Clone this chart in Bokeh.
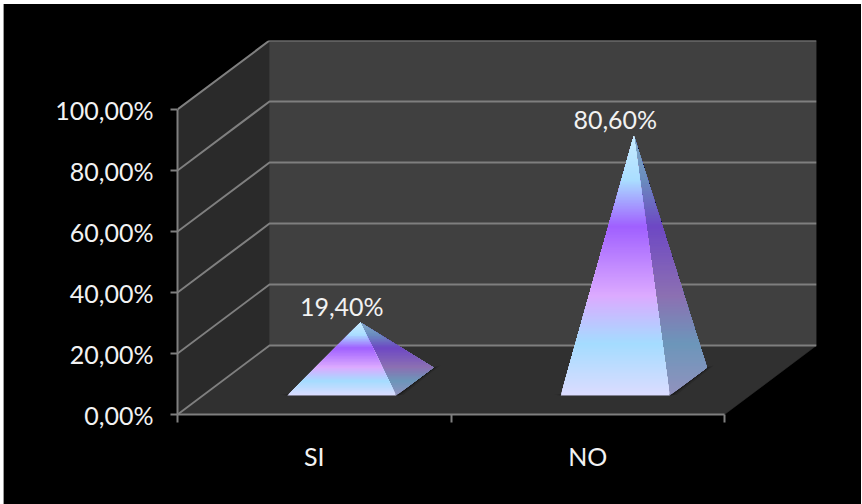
from bokeh.plotting import figure
from bokeh.embed import file_html
from bokeh.resources import INLINE
from bokeh.models import FixedTicker
from bokeh.core.properties import value

categories = ["SI", "NO"]
values = [19.4, 80.6]
labels = ["19,40%", "80,60%"]
y_ticks = [0, 20, 40, 60, 80, 100]
y_tick_labels = ["0,00%", "20,00%", "40,00%", "60,00%", "80,00%", "100,00%"]

# page geometry (px)
PAGE_L, PAGE_T = 4, 4
FL, FR_, FT, FB = 177, 816, 40, 414
PX_X = (725 - 178) / 2      # px per category
PX_Y = (415 - 110) / 100    # px per percent
DEPTH_X = 92 / PX_X         # wall depth, in data units
DEPTH_Y = 69 / PX_Y

def proj(x, y, d):
    return x + d * DEPTH_X, y + d * DEPTH_Y

FONT = "Lato"
W, H = 858, 500
p = figure(width=W, height=H, output_backend="svg", toolbar_location=None,
           x_range=(0, 2 + DEPTH_X), y_range=(0, 100 + DEPTH_Y),
           min_border_left=FL - PAGE_L, min_border_right=PAGE_L + W - FR_,
           min_border_top=FT - PAGE_T, min_border_bottom=PAGE_T + H - FB,
           background_fill_color="black", border_fill_color="black",
           outline_line_color=None)
p.styles = {"position": "absolute", "left": "3px", "top": "4px", "background-color": "black",
            "border-left": "1px solid #9a9a9a"}
p.grid.visible = False

GRID = "#7f7f7f"
ymax = y_ticks[-1]
# walls and floor
def poly(pts, color):
    p.patch([q[0] for q in pts], [q[1] for q in pts], fill_color=color, line_color=color, line_width=0.5)
poly([proj(0, 0, 0), proj(0, 0, 1), proj(0, ymax, 1), proj(0, ymax, 0)], "#2a2a2a")
poly([proj(0, 0, 1), proj(2, 0, 1), proj(2, ymax, 1), proj(0, ymax, 1)], "#404040")
poly([proj(0, 0, 0), proj(2, 0, 0), proj(2, 0, 1), proj(0, 0, 1)], "#303030")

for t in y_ticks:
    a, b, c = proj(0, t, 0), proj(0, t, 1), proj(2, t, 1)
    p.line([a[0], b[0], c[0]], [a[1], b[1], c[1]], line_color=GRID, line_width=2)

# pyramids
STOPS = [(0.0, (220, 220, 255)), (0.2, (164, 220, 255)), (0.385, (220, 170, 255)),
         (0.65, (160, 96, 255)), (0.83, (170, 222, 255)), (1.0, (200, 235, 255))]
SIDE = [(0.0, (146, 146, 190)), (0.2, (108, 150, 186)), (0.385, (140, 112, 178)),
        (0.65, (110, 72, 196)), (0.83, (106, 140, 190)), (1.0, (130, 170, 200))]

def grad(stops, t):
    for (t0, c0), (t1, c1) in zip(stops, stops[1:]):
        if t <= t1:
            f = (t - t0) / (t1 - t0)
            return "#%02x%02x%02x" % tuple(round(a + (b - a) * f) for a, b in zip(c0, c1))
    return "#%02x%02x%02x" % stops[-1][1]

def clip(pts, lim):
    # part of a polygon at or above lim
    out = []
    ins = lambda q: q[1] >= lim
    for i, a in enumerate(pts):
        b = pts[(i + 1) % len(pts)]
        if ins(a):
            out.append(a)
        if ins(a) != ins(b):
            f = (lim - a[1]) / (b[1] - a[1])
            out.append((a[0] + (b[0] - a[0]) * f, lim))
    return out

def shaded(pts, stops, y0, y1, n):
    # painted bottom to top, each step covering all that remains: no seams
    xs, ys, cols = [], [], []
    for i in range(n):
        s = clip(pts, y0 + (y1 - y0) * i / n)
        if len(s) >= 3:
            xs.append([q[0] for q in s]); ys.append([q[1] for q in s])
            cols.append(grad(stops, (i + 0.5) / n))
    p.patches(xs, ys, fill_color=cols, line_color=None)

HALF = 0.199
D0, D1 = 0.275, 0.68
for i, (v, lab) in enumerate(zip(values, labels)):
    c = i + 0.508
    fl, fr = proj(c - HALF, 0, D0), proj(c + HALF, 0, D0)
    br = proj(c + HALF, 0, D1)
    apex = proj(c, v, (D0 + D1) / 2)
    # soft shadow on the floor
    for k, a in ((7, 0.12), (4, 0.18), (2, 0.25)):
        dx, dy = k / PX_X, k / PX_Y * 0.35
        sx = [fl[0] - dx, fr[0] + dx, br[0] + dx, br[0] - dx]
        sy = [fl[1] + dy * 0.2, fr[1] + dy * 0.2, br[1] + dy, br[1] - dy]
        p.patch(sx, sy, fill_color="black", fill_alpha=a, line_color=None)
    n = max(30, int((apex[1] - fl[1]) * PX_Y / 1.5))
    shaded([fr, br, apex], SIDE, fl[1], apex[1], n)
    shaded([fl, fr, apex], STOPS, fl[1], apex[1], n)
    p.text([proj(c, v, D0)[0]], [apex[1] + 1.3 / PX_Y], text=[lab], text_color="#f2f2f2",
           text_font=value(FONT), text_font_size="25px", text_align="center", text_baseline="bottom")

# axes
ax = p.yaxis[0]
ax.ticker = FixedTicker(ticks=y_ticks)
ax.bounds = (y_ticks[0], y_ticks[-1])
ax.major_label_overrides = dict(zip(y_ticks, y_tick_labels))
ax.major_label_text_color = "#f2f2f2"
ax.major_label_text_font = FONT
ax.major_label_text_font_size = "25px"
ax.major_label_standoff = 17
ax.axis_line_color = GRID
ax.axis_line_width = 2
ax.major_tick_line_color = GRID
ax.major_tick_line_width = 2
ax.major_tick_out = 7
ax.major_tick_in = 0
ax.minor_tick_line_color = None

xa = p.xaxis[0]
cat_pos = [i + 0.5 for i in range(len(categories))]
xa.ticker = FixedTicker(ticks=cat_pos, minor_ticks=[i for i in range(len(categories) + 1)])
xa.bounds = (0, len(categories))
xa.major_label_overrides = dict(zip(cat_pos, categories))
xa.major_label_text_color = "#f2f2f2"
xa.major_label_text_font = FONT
xa.major_label_text_font_size = "25px"
xa.major_label_standoff = 18
xa.major_tick_line_color = None
xa.major_tick_out = 0
xa.major_tick_in = 0
xa.axis_line_color = GRID
xa.axis_line_width = 2
xa.minor_tick_line_color = GRID
xa.minor_tick_line_width = 2
xa.minor_tick_out = 8
xa.minor_tick_in = 0

open("out.html", "w").write(file_html(p, INLINE))
